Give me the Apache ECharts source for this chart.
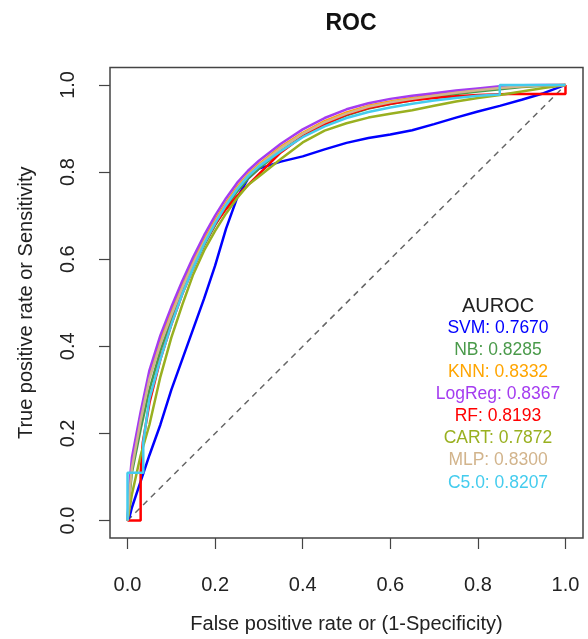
<!DOCTYPE html>
<html>
<head>
<meta charset="utf-8">
<title>ROC</title>
<script src="https://cdn.jsdelivr.net/npm/echarts@6/dist/echarts.min.js"></script>
<style>
  html, body { margin: 0; padding: 0; background: #fff; }
  #main { width: 588px; height: 639px; }
</style>
</head>
<body>
<div id="main"></div>
<script>
// tick positions shared by both axes
var ticks = [0, 0.2, 0.4, 0.6, 0.8, 1.0];

// model names and their AUROC, in legend order
var models = ['SVM', 'NB', 'KNN', 'LogReg', 'RF', 'CART', 'MLP', 'C5.0'];
var auroc = ['0.7670', '0.8285', '0.8332', '0.8367', '0.8193', '0.7872', '0.8300', '0.8207'];
var colors = ['#0000ff', '#4a9a4a', '#ffa500', '#a43cf0', '#ff0000', '#99b020', '#d2b48c', '#44ccee'];

// [fpr, tpr]
var svm = [[0,0],[0.005,0.01],[0.01,0.03],[0.03,0.09],[0.05,0.15],[0.075,0.22],[0.1,0.3],[0.125,0.37],[0.15,0.44],[0.175,0.51],[0.2,0.585],[0.225,0.67],[0.25,0.74],[0.275,0.785],[0.3,0.808],[0.35,0.824],[0.4,0.836],[0.45,0.852],[0.5,0.867],[0.55,0.878],[0.6,0.886],[0.65,0.896],[0.7,0.91],[0.75,0.925],[0.8,0.939],[0.85,0.952],[0.9,0.966],[0.95,0.981],[1,1]];
var nb = [[0,0],[0.005,0.06],[0.01,0.11],[0.03,0.21],[0.05,0.3],[0.075,0.39],[0.1,0.46],[0.125,0.525],[0.15,0.58],[0.175,0.632],[0.2,0.678],[0.225,0.72],[0.25,0.755],[0.275,0.785],[0.3,0.808],[0.35,0.848],[0.4,0.882],[0.45,0.91],[0.5,0.93],[0.55,0.946],[0.6,0.956],[0.65,0.965],[0.7,0.972],[0.75,0.979],[0.8,0.985],[0.85,0.99],[0.9,0.995],[0.95,0.998],[1,1]];
var knn = [[0,0],[0.005,0.08],[0.01,0.13],[0.03,0.24],[0.05,0.335],[0.075,0.415],[0.1,0.48],[0.125,0.54],[0.15,0.595],[0.175,0.645],[0.2,0.69],[0.225,0.73],[0.25,0.766],[0.275,0.795],[0.3,0.818],[0.35,0.858],[0.4,0.89],[0.45,0.917],[0.5,0.937],[0.55,0.952],[0.6,0.962],[0.65,0.97],[0.7,0.977],[0.75,0.984],[0.8,0.99],[0.85,0.994],[0.9,0.997],[0.95,0.999],[1,1]];
var logreg = [[0,0],[0.005,0.09],[0.01,0.144],[0.03,0.25],[0.05,0.345],[0.075,0.425],[0.1,0.49],[0.125,0.55],[0.15,0.605],[0.175,0.655],[0.2,0.7],[0.225,0.74],[0.25,0.775],[0.275,0.803],[0.3,0.826],[0.35,0.865],[0.4,0.898],[0.45,0.924],[0.5,0.944],[0.55,0.958],[0.6,0.968],[0.65,0.975],[0.7,0.981],[0.75,0.987],[0.8,0.992],[0.85,0.997],[0.9,0.999],[0.95,1],[1,1]];
var rf = [[0,0],[0.03,0],[0.03,0.11],[0.035,0.18],[0.05,0.27],[0.075,0.37],[0.1,0.45],[0.125,0.52],[0.15,0.58],[0.175,0.635],[0.2,0.68],[0.225,0.715],[0.25,0.745],[0.275,0.77],[0.3,0.795],[0.35,0.845],[0.4,0.882],[0.45,0.91],[0.5,0.932],[0.55,0.947],[0.6,0.957],[0.65,0.965],[0.7,0.97],[0.75,0.974],[0.8,0.977],[0.87,0.979],[1,0.979],[1,1]];
var cart = [[0,0],[0.005,0.03],[0.01,0.06],[0.03,0.15],[0.05,0.22],[0.075,0.33],[0.1,0.42],[0.125,0.495],[0.15,0.565],[0.175,0.62],[0.2,0.665],[0.225,0.705],[0.25,0.74],[0.275,0.77],[0.3,0.79],[0.35,0.83],[0.4,0.868],[0.45,0.895],[0.5,0.912],[0.55,0.925],[0.6,0.934],[0.65,0.942],[0.7,0.952],[0.75,0.962],[0.8,0.97],[0.85,0.977],[0.9,0.985],[0.95,0.993],[1,1]];
var mlp = [[0,0],[0.005,0.07],[0.01,0.12],[0.03,0.23],[0.05,0.325],[0.075,0.405],[0.1,0.472],[0.125,0.534],[0.15,0.59],[0.175,0.64],[0.2,0.685],[0.225,0.726],[0.25,0.762],[0.275,0.792],[0.3,0.815],[0.35,0.855],[0.4,0.888],[0.45,0.914],[0.5,0.934],[0.55,0.95],[0.6,0.96],[0.65,0.968],[0.7,0.975],[0.75,0.982],[0.8,0.988],[0.85,0.993],[0.9,0.997],[0.95,0.999],[1,1]];
var c50 = [[0,0],[0,0.11],[0.036,0.11],[0.036,0.18],[0.05,0.28],[0.075,0.37],[0.1,0.45],[0.125,0.52],[0.15,0.58],[0.175,0.635],[0.2,0.682],[0.225,0.724],[0.25,0.76],[0.275,0.79],[0.3,0.813],[0.35,0.848],[0.4,0.88],[0.45,0.905],[0.5,0.924],[0.55,0.938],[0.6,0.948],[0.65,0.957],[0.7,0.964],[0.75,0.97],[0.8,0.975],[0.85,0.978],[0.85,1],[1,1]];
var chance = [[0,0],[1,1]];

var curves = [svm, nb, knn, logreg, rf, cart, mlp, c50];

var font = 'Liberation Sans, Arial, sans-serif';

var series = [{
  type: 'line',
  data: chance,
  showSymbol: false,
  silent: true,
  lineStyle: { color: '#666', width: 1.5, type: [6, 5] }
}];
curves.forEach(function (d, i) {
  series.push({
    name: models[i],
    type: 'line',
    data: d,
    showSymbol: false,
    lineStyle: { color: colors[i], width: 2.5 }
  });
});

// AUROC text block
var graphics = [{
  type: 'text', x: 498, y: 306,
  style: { text: 'AUROC', font: '20px ' + font, fill: '#222', align: 'center', verticalAlign: 'middle' }
}];
models.forEach(function (m, i) {
  graphics.push({
    type: 'text',
    x: 498, y: 328 + i * 22.1,
    style: {
      text: m + ': ' + auroc[i],
      font: '17.5px ' + font,
      fill: colors[i],
      align: 'center',
      verticalAlign: 'middle'
    }
  });
});

function axisCommon() {
  return {
    type: 'value',
    min: -0.04,
    max: 1.04,
    axisLine: { show: false, onZero: false },
    splitLine: { show: false },
    axisTick: {
      show: true, inside: false, customValues: ticks, length: 11,
      lineStyle: { color: '#444', width: 1.2 }
    },
    axisLabel: {
      customValues: ticks,
      formatter: function (v) { return v.toFixed(1); },
      color: '#222',
      fontFamily: font,
      fontSize: 20
    },
    nameLocation: 'middle',
    nameTextStyle: { color: '#222', fontFamily: font, fontSize: 20 }
  };
}

var xAxis = axisCommon();
xAxis.name = 'False positive rate or (1-Specificity)';
xAxis.nameGap = 76;
xAxis.axisLabel.margin = 37;

var yAxis = axisCommon();
yAxis.name = 'True positive rate or Sensitivity';
yAxis.nameGap = 74;
yAxis.axisLabel.rotate = 90;
yAxis.axisLabel.margin = 32;

var chart = echarts.init(document.getElementById('main'));
chart.setOption({
  animation: false,
  backgroundColor: '#fff',
  title: {
    text: 'ROC',
    left: 346,
    top: 7,
    textAlign: 'center',
    textStyle: { fontFamily: font, fontSize: 23, fontWeight: 'bold', color: '#111' }
  },
  grid: {
    left: 110, top: 67.5, width: 473, height: 473,
    show: true, borderColor: '#444', borderWidth: 1.5,
    containLabel: false
  },
  xAxis: xAxis,
  yAxis: yAxis,
  series: series,
  graphic: graphics
});
</script>
</body>
</html>
